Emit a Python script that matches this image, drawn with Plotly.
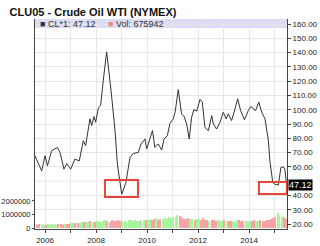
import numpy as np
import plotly.graph_objects as go

# ---- data ----
price_dates = [
    "2005-08-10", "2005-09-27", "2005-11-14", "2006-01-01", "2006-02-04", "2006-04-05",
    "2006-05-22", "2006-06-25", "2006-08-03", "2006-09-29", "2006-11-07", "2007-01-03",
    "2007-03-04", "2007-05-06", "2007-07-02", "2007-08-05", "2007-10-06", "2007-10-30",
    "2007-12-03", "2007-12-26", "2008-02-04", "2008-03-07", "2008-04-14", "2008-06-01",
    "2008-08-03", "2008-09-29", "2008-11-02", "2009-01-03", "2009-03-04", "2009-05-01",
    "2009-06-18", "2009-08-28", "2009-10-06", "2009-12-03", "2009-12-26", "2010-02-13",
    "2010-03-20", "2010-04-22", "2010-06-11", "2010-07-29", "2010-09-01", "2010-10-18",
    "2010-11-25", "2011-01-12", "2011-02-06", "2011-03-24", "2011-05-10", "2011-06-16",
    "2011-07-22", "2011-08-28", "2011-10-01", "2011-11-03", "2011-12-13", "2012-01-29",
    "2012-03-02", "2012-04-08", "2012-05-28", "2012-07-15", "2012-08-07", "2012-09-23",
    "2012-11-10", "2012-12-27", "2013-02-07", "2013-03-09", "2013-04-26", "2013-06-13",
    "2013-07-22", "2013-09-02", "2013-10-26", "2013-12-20", "2014-01-29", "2014-03-02",
    "2014-04-04", "2014-05-21", "2014-07-01", "2014-08-17", "2014-10-04", "2014-10-26",
    "2014-12-06", "2015-01-08", "2015-02-25", "2015-04-01", "2015-05-07", "2015-05-28",
    "2015-06-24",
]
price_values = [
    67.7, 61.9, 57.2, 67.7, 60.7, 71.3,
    72.5, 73.6, 70.1, 58.4, 62.3, 58.4,
    65.4, 64.2, 78.3, 74.8, 93.6, 88.9,
    95.2, 91.2, 101.3, 103.0, 120.6, 140.5,
    113.5, 85.4, 61.9, 40.8, 49.0, 66.5,
    69.4, 70.1, 76.0, 79.5, 72.5, 79.5,
    85.4, 73.6, 76.0, 71.8, 79.5, 81.8,
    90.5, 93.6, 98.2, 114.0, 97.1, 95.2,
    90.0, 79.5, 94.7, 100.1, 99.0, 107.2,
    105.3, 87.7, 85.4, 95.9, 90.0, 86.5,
    91.2, 98.2, 93.6, 97.1, 92.4, 100.6,
    107.7, 99.4, 92.9, 99.4, 102.3, 100.6,
    99.4, 105.3, 98.2, 93.6, 78.3, 64.2,
    49.0, 47.8, 47.3, 59.5, 60.0, 58.5,
    47.12,
]

vol_months = [f"{y}-{m:02d}-15" for y in range(2005, 2016) for m in range(1, 13)
              if (y, m) >= (2005, 9) and (y, m) <= (2015, 6)]
vol_values = [
    0.25, 0.27, 0.24, 0.26,
    0.25, 0.28, 0.26, 0.27, 0.24, 0.26, 0.28, 0.27, 0.25, 0.30, 0.28, 0.33,
    0.35, 0.38, 0.34, 0.40, 0.38, 0.45, 0.42, 0.48, 0.44, 0.50, 0.46, 0.42,
    0.50, 0.55, 0.48, 0.52, 0.58, 0.50, 0.47, 0.60, 0.55, 0.52, 0.58, 0.50,
    0.52, 0.55, 0.48, 0.60, 0.56, 0.50, 0.58, 0.55, 0.52, 0.60, 0.57, 0.62,
    0.60, 0.65, 0.58, 0.68, 0.72, 0.62, 0.66, 0.70, 0.75, 0.68, 0.85, 0.72,
    0.78, 0.80, 0.95, 0.90, 0.75, 0.70, 0.68, 0.72, 0.65, 0.70, 0.62, 0.66,
    0.68, 0.60, 0.72, 0.58, 0.62, 0.55, 0.58, 0.60, 0.52, 0.56, 0.54, 0.50,
    0.58, 0.52, 0.55, 0.50, 0.54, 0.48, 0.56, 0.60, 0.52, 0.55, 0.50, 0.53,
    0.55, 0.52, 0.58, 0.54, 0.50, 0.56, 0.52, 0.55, 0.60, 0.62, 0.68, 0.72,
    0.80, 1.10, 0.95, 0.85, 0.80, 0.675942,
]
vol_values = [v * 1e6 for v in vol_values]

year_ticks = [f"{y}-01-01" for y in range(2006, 2016)]
year_labels = [str(y) if y % 2 == 0 else "" for y in range(2006, 2016)]
price_ticks = [v for v in range(20, 170, 10) if v != 50]   # 50.00 is hidden by the last-price tag
vol_ticks = [0, 1000000, 2000000]

last_price = 47.12
last_vol = 675942

# bar colours: green when price rose during the month, pink otherwise
pd_ms = np.array(price_dates, dtype="datetime64[D]").astype(float)
vm = np.array(vol_months, dtype="datetime64[D]").astype(float)
p_start = np.interp(vm - 15, pd_ms, price_values)
p_end = np.interp(vm + 15, pd_ms, price_values)
bar_colors = ["#a6f59c" if e >= s else "#f7a3a3" for s, e in zip(p_start, p_end)]

fig = go.Figure()
fig.add_trace(go.Bar(
    x=vol_months, y=vol_values, yaxis="y", marker=dict(color=bar_colors, line=dict(width=0)),
    width=20 * 24 * 3600 * 1000, showlegend=False, hoverinfo="skip",
))
fig.add_trace(go.Scatter(
    x=price_dates, y=price_values, yaxis="y2", mode="lines",
    line=dict(color="#333333", width=1), showlegend=False,
))

font_axis = dict(family="Liberation Sans, Arial", size=8, color="#222222")

fig.update_layout(
    width=320, height=246,
    margin=dict(l=35, r=33, t=19, b=17, autoexpand=False),
    paper_bgcolor="white", plot_bgcolor="white",
    bargap=0,
    title=dict(text="<b>CLU05 - Crude Oil WTI (NYMEX)</b>", x=0.03, xanchor="left",
               y=1 - 12 / 246, yanchor="middle", yref="container",
               font=dict(family="Liberation Sans, Arial", size=11, color="#111111")),
    xaxis=dict(
        type="date", range=["2005-08-10", "2015-06-28"],
        tickvals=year_ticks, ticktext=year_labels,
        showgrid=True, gridcolor="#e6e6e6", gridwidth=1,
        ticks="outside", ticklen=3, tickcolor="#444444",
        showline=True, linecolor="#444444", linewidth=1,
        tickfont=font_axis, zeroline=False, automargin=False,
    ),
    yaxis=dict(
        range=[-0.07e6, 15.4e6], side="left",
        tickvals=vol_ticks, ticktext=[str(v) for v in vol_ticks],
        showgrid=False, zeroline=False,
        ticks="outside", ticklen=2, tickcolor="#444444",
        showline=True, linecolor="#444444", linewidth=1,
        tickfont=dict(family="Liberation Sans, Arial", size=7.5, color="#222222"),
        automargin=False,
    ),
    yaxis2=dict(
        range=[16.5, 163.5], side="right", overlaying="y",
        tickvals=price_ticks, ticktext=[f"{v:.2f}" for v in price_ticks],
        showgrid=True, gridcolor="#e6e6e6", gridwidth=1, zeroline=False,
        ticks="outside", ticklen=3, tickcolor="#444444",
        showline=True, linecolor="#444444", linewidth=1,
        tickfont=font_axis, automargin=False,
    ),
    shapes=[
        dict(type="rect", xref="paper", yref="paper", x0=0, x1=1, y0=1 - 9 / 210, y1=1,
             fillcolor="#dcdcf6", line=dict(width=0), layer="below"),
        dict(type="line", xref="paper", yref="y2", x0=0, x1=1, y0=50, y1=50,
             line=dict(color="#e6e6e6", width=1), layer="below"),
        dict(type="rect", xref="x", yref="y2", x0="2008-05-08", x1="2009-08-24",
             y0=38.9, y1=50.8, line=dict(color="#e8453c", width=2)),
        dict(type="rect", xref="x", yref="y2", x0="2014-05-22", x1="2015-06-26",
             y0=41.0, y1=49.4, line=dict(color="#e8453c", width=2)),
    ],
    annotations=[
        dict(xref="paper", yref="paper", x=0.01, y=1 - 4.5 / 210, xanchor="left", yanchor="middle",
             text=f"■ CL*1: {last_price:.2f}", showarrow=False,
             font=dict(family="Liberation Sans, Arial", size=9, color="#333333")),
        dict(xref="paper", yref="paper", x=0.28, y=1 - 4.5 / 210, xanchor="left", yanchor="middle",
             text=f"<span style='color:#f08a8a'>■</span> Vol: {last_vol}", showarrow=False,
             font=dict(family="Liberation Sans, Arial", size=9, color="#333333")),
        dict(xref="paper", yref="y2", x=1, y=last_price, xanchor="left", yanchor="middle",
             xshift=1, text=f"{last_price:.2f}", showarrow=False, bgcolor="black",
             borderpad=0, font=dict(family="Liberation Sans, Arial", size=9, color="white")),
    ],
)

fig.write_html("out.html")
